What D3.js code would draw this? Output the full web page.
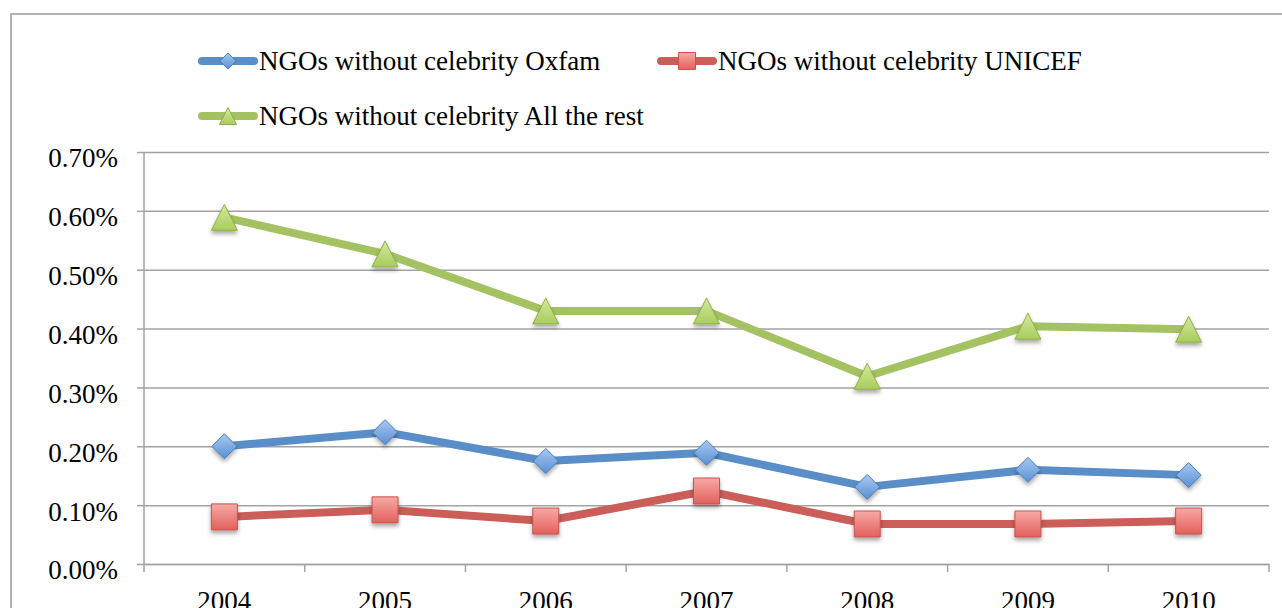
<!DOCTYPE html>
<html>
<head>
<meta charset="utf-8">
<script src="https://cdn.jsdelivr.net/npm/d3@7"></script>
<style>
  body { margin: 0; background: #fff; }
  svg { display: block; }
</style>
</head>
<body>
<script>
// line chart, NGOs without celebrity

let w = 1282;
let h = 608;

let years = ['2004', '2005', '2006', '2007', '2008', '2009', '2010'];
let oxfam = [0.00200, 0.00224, 0.00175, 0.00189, 0.00131, 0.00160, 0.00151];
let unicef = [0.00080, 0.00092, 0.00073, 0.00124, 0.00068, 0.00068, 0.00073];
let allRest = [0.00589, 0.00527, 0.00430, 0.00430, 0.00319, 0.00404, 0.00399];
let yTicks = [0, 0.001, 0.002, 0.003, 0.004, 0.005, 0.006, 0.007];
let seriesNames = ['NGOs without celebrity Oxfam', 'NGOs without celebrity UNICEF', 'NGOs without celebrity All the rest'];

let series = [
    { name: seriesNames[0], values: oxfam, color: '#5a8ec8', marker: 'diamond', light: '#a6c9f2', dark: '#5b8fd3', stroke: '#4a7ebb' },
    { name: seriesNames[1], values: unicef, color: '#cc5e59', marker: 'square', light: '#f7a9a6', dark: '#e3605b', stroke: '#c8524e' },
    { name: seriesNames[2], values: allRest, color: '#a5c263', marker: 'triangle', light: '#d4ea9f', dark: '#a8cc5c', stroke: '#8fb04a' }
];

let font = '"Liberation Serif", serif';

let svg = d3.select('body').append('svg').attr('width', w).attr('height', h);

let defs = svg.append('defs');
series.forEach((s, i) => {
    let g = defs.append('linearGradient').attr('id', 'grad' + i)
        .attr('x1', 0).attr('y1', 0).attr('x2', 0).attr('y2', 1);
    g.append('stop').attr('offset', '0%').attr('stop-color', s.light);
    g.append('stop').attr('offset', '100%').attr('stop-color', s.dark);
});
let f = defs.append('filter').attr('id', 'shadow')
    .attr('x', '-50%').attr('y', '-50%').attr('width', '200%').attr('height', '200%');
f.append('feDropShadow').attr('dx', 0).attr('dy', 3).attr('stdDeviation', 2)
    .attr('flood-color', '#000').attr('flood-opacity', 0.35);

// outer frame
svg.append('rect')
    .attr('x', 11).attr('y', 14).attr('width', 1290).attr('height', 620)
    .attr('fill', 'none').attr('stroke', '#9a9a9a').attr('stroke-width', 1.5);

let x = d3.scaleBand().domain(years).range([144, 1269]).padding(0);
let y = d3.scaleLinear().domain([0, 0.007]).range([564, 152]);

// gridlines
svg.append('g')
    .attr('transform', 'translate(144,0)')
    .call(d3.axisLeft(y).tickValues(yTicks).tickSize(-(1269 - 144)).tickFormat(''))
    .call(g => g.select('.domain').remove())
    .call(g => g.selectAll('line').attr('stroke', '#a3a3a3').attr('stroke-width', 1.5));

// y axis
svg.append('g')
    .attr('transform', 'translate(144,0)')
    .call(d3.axisLeft(y).tickValues(yTicks).tickSize(7).tickPadding(19).tickFormat(d3.format('.2%')))
    .call(g => g.select('.domain').attr('stroke', '#a3a3a3').attr('stroke-width', 1.5)
        .attr('d', 'M0,152V564'))
    .call(g => g.selectAll('line').attr('stroke', '#a3a3a3').attr('stroke-width', 1.5))
    .call(g => g.selectAll('text').attr('font-family', font).attr('font-size', '27px')
        .attr('fill', '#000').attr('dy', '0.55em'));

// x axis
let xAxis = svg.append('g')
    .attr('transform', 'translate(0,564)')
    .call(d3.axisBottom(x).tickSize(0).tickPadding(27))
    .call(g => g.select('.domain').attr('stroke', '#a3a3a3').attr('stroke-width', 1.5))
    .call(g => g.selectAll('text').attr('font-family', font).attr('font-size', '27px')
        .attr('fill', '#000').attr('dy', '0.71em'));

xAxis.selectAll('.cat-tick')
    .data(years.concat(['end']))
    .enter()
    .append('line')
    .attr('x1', (d, i) => i < years.length ? x(d) : x.range()[1])
    .attr('x2', (d, i) => i < years.length ? x(d) : x.range()[1])
    .attr('y1', 0).attr('y2', 8)
    .attr('stroke', '#a3a3a3').attr('stroke-width', 1.5);

let cx = d => x(d) + x.bandwidth() / 2;

function markerPath(type, size) {
    let r = size / 2;
    if (type == 'diamond') {
        return `M0,${-r}L${r},0L0,${r}L${-r},0Z`;
    } else if (type == 'square') {
        return `M${-r},${-r}H${r}V${r}H${-r}Z`;
    } else {
        return `M0,${-r}L${r},${r}H${-r}Z`;
    }
}
let markerSize = { diamond: 25, square: 26, triangle: 26 };

let line = d3.line()
    .x((d, i) => cx(years[i]))
    .y(d => y(d));

series.forEach((s, i) => {
    svg.append('path')
        .datum(s.values)
        .attr('d', line)
        .attr('fill', 'none')
        .attr('stroke', s.color)
        .attr('stroke-width', 8)
        .attr('stroke-linejoin', 'round');

    svg.append('g').selectAll('path')
        .data(s.values)
        .enter()
        .append('path')
        .attr('d', markerPath(s.marker, markerSize[s.marker]))
        .attr('transform', (d, j) => `translate(${cx(years[j])},${y(d)})`)
        .attr('fill', `url(#grad${i})`)
        .attr('stroke', s.stroke)
        .attr('stroke-width', 1)
        .attr('filter', 'url(#shadow)');
});

// legend
let legendPos = [
    { x: 198, y: 61 },
    { x: 657, y: 61 },
    { x: 198, y: 116 }
];

series.forEach((s, i) => {
    let p = legendPos[i];
    let lg = svg.append('g').attr('transform', `translate(${p.x},${p.y})`);
    lg.append('line')
        .attr('x1', 4).attr('x2', 56).attr('y1', 0).attr('y2', 0)
        .attr('stroke', s.color).attr('stroke-width', 8).attr('stroke-linecap', 'round');
    lg.append('path')
        .attr('d', markerPath(s.marker, s.marker == 'diamond' ? 16 : 17))
        .attr('transform', 'translate(30,0)')
        .attr('fill', `url(#grad${i})`)
        .attr('stroke', s.stroke)
        .attr('stroke-width', 1);
    lg.append('text')
        .attr('x', 61).attr('y', 0).attr('dy', '0.35em')
        .attr('font-family', font).attr('font-size', '27px')
        .text(s.name);
});
</script>
</body>
</html>
